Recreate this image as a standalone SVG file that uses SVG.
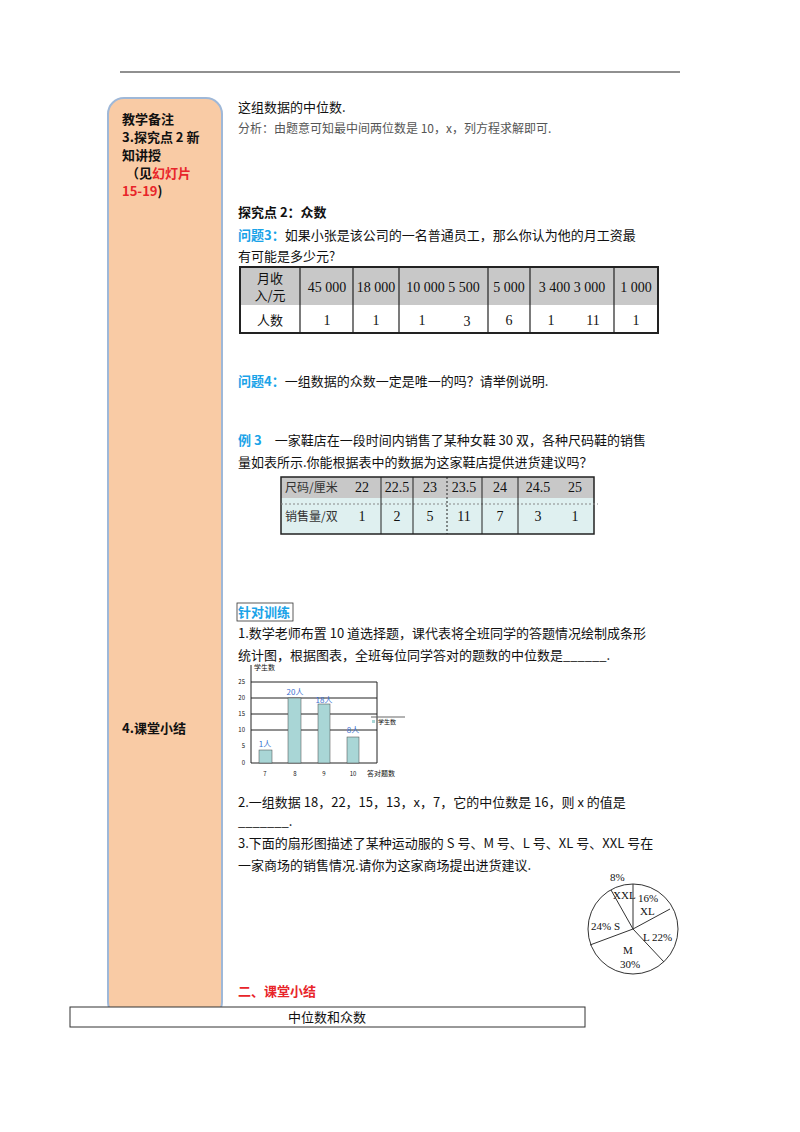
<svg xmlns="http://www.w3.org/2000/svg" width="800" height="1132" viewBox="0 0 800 1132">
<style>
text{font-family:"Noto Sans CJK SC","Noto Sans",sans-serif;font-size:13px;fill:#111}
.s{font-family:"Liberation Serif","Noto Sans CJK SC",serif;font-size:14px}
.b{font-weight:bold}
.blue{fill:#1aa3e8;font-weight:bold}
.red{fill:#e8252a}
.ln{stroke:#222;fill:none}
.t6{font-size:6px}
.t7{font-size:7px}
.t8{font-size:8px;fill:#3a6fd0}
.t11{font-size:11px}
.t12{font-size:12px;fill:#333}
</style>
<rect width="800" height="1132" fill="#fff"/>
<line x1="120" y1="72" x2="680" y2="72" stroke="#222" stroke-width="1.2"/>
<g id="sidebar">
<rect x="108" y="98" width="114" height="920" rx="16" fill="#f9cba5" stroke="#9fb8d8" stroke-width="2"/>
<text x="122" y="124" class="b">教学备注</text>
<text x="122" y="142" class="b">3.探究点 2 新</text>
<text x="122" y="160" class="b">知讲授</text>
<text x="126" y="178" class="b">（见<tspan class="red">幻灯片</tspan></text>
<text x="122" y="196" class="b"><tspan class="red">15-19</tspan>)</text>
<text x="122" y="733" class="b">4.课堂小结</text>
</g>
<g id="text1">
<text x="238" y="112">这组数据的中位数.</text>
<text x="238" y="133" style="fill:#555;font-size:12px">分析：由题意可知最中间两位数是 10，x，列方程求解即可.</text>
<text x="238" y="217" class="b">探究点 2：众数</text>
<text x="238" y="240"><tspan class="blue">问题3：</tspan>如果小张是该公司的一名普通员工，那么你认为他的月工资最</text>
<text x="238" y="261">有可能是多少元?</text>
</g>
<g id="table1">
<rect x="240" y="267" width="418" height="38" fill="#c8c8c8"/>
<rect x="240" y="267" width="418" height="66" class="ln" stroke-width="2"/>
<g class="ln" stroke-width="1.2">
<line x1="300" y1="267" x2="300" y2="333"/><line x1="353" y1="267" x2="353" y2="333"/><line x1="399" y1="267" x2="399" y2="333"/><line x1="488" y1="267" x2="488" y2="333"/><line x1="530" y1="267" x2="530" y2="333"/><line x1="614" y1="267" x2="614" y2="333"/>
</g>
<text x="270" y="283" text-anchor="middle">月收</text><text x="270" y="300" text-anchor="middle">入/元</text>
<g text-anchor="middle">
<text x="327" y="292" class="s">45 000</text><text x="376" y="292" class="s">18 000</text><text x="443" y="292" class="s">10 000  5 500</text><text x="509" y="292" class="s">5 000</text><text x="572" y="292" class="s">3 400  3 000</text><text x="636" y="292" class="s">1 000</text>
<text x="327" y="325" class="s">1</text><text x="376" y="325" class="s">1</text><text x="422" y="325" class="s">1</text><text x="467" y="326" class="s">3</text><text x="509" y="325" class="s">6</text><text x="551" y="325" class="s">1</text><text x="593" y="325" class="s">11</text><text x="636" y="325" class="s">1</text>
</g>
<text x="270" y="325" text-anchor="middle">人数</text>
</g>
<g id="text2">
<text x="238" y="386"><tspan class="blue">问题4：</tspan>一组数据的众数一定是唯一的吗？请举例说明.</text>
<text x="238" y="445"><tspan class="blue">例 3</tspan>　一家鞋店在一段时间内销售了某种女鞋 30 双，各种尺码鞋的销售</text>
<text x="238" y="467">量如表所示.你能根据表中的数据为这家鞋店提供进货建议吗？</text>
</g>
<g id="table2">
<rect x="281" y="477" width="313" height="21" fill="#c8c8c8"/>
<rect x="281" y="498" width="313" height="36" fill="#dff0f0"/>
<rect x="281" y="477" width="313" height="57" class="ln" stroke-width="1.5"/>
<line x1="281" y1="504" x2="598" y2="504" stroke="#888" stroke-dasharray="2,2"/>
<g class="ln"><line x1="381" y1="477" x2="381" y2="534"/><line x1="413" y1="477" x2="413" y2="534"/><line x1="447" y1="477" x2="447" y2="534" stroke-dasharray="2,2"/><line x1="482" y1="477" x2="482" y2="534"/><line x1="518" y1="477" x2="518" y2="534"/></g>
<text x="285" y="492" class="t12">尺码/厘米</text><text x="285" y="521" class="t12">销售量/双</text>
<g text-anchor="middle">
<text class="s" x="362" y="492">22</text><text class="s" x="397" y="492">22.5</text><text class="s" x="430" y="492">23</text><text class="s" x="464" y="492">23.5</text><text class="s" x="500" y="492">24</text><text class="s" x="538" y="492">24.5</text><text class="s" x="575" y="492">25</text>
<text class="s" x="362" y="521">1</text><text class="s" x="397" y="521">2</text><text class="s" x="430" y="521">5</text><text class="s" x="464" y="521">11</text><text class="s" x="500" y="521">7</text><text class="s" x="538" y="521">3</text><text class="s" x="575" y="521">1</text>
</g>
</g>
<g id="text3">
<text x="238" y="617" class="blue">针对训练</text>
<rect x="237" y="603" width="56" height="18" fill="none" stroke="#333" stroke-width="0.8"/>
<text x="238" y="638">1.数学老师布置 10 道选择题，课代表将全班同学的答题情况绘制成条形</text>
<text x="238" y="660">统计图，根据图表，全班每位同学答对的题数的中位数是______.</text>
</g>
<g id="barchart">
<line x1="251" y1="665" x2="251" y2="763" stroke="#222"/>
<line x1="251" y1="763" x2="377" y2="763" stroke="#222"/>
<g stroke="#222" fill="none"><line x1="251" y1="682" x2="377" y2="682"/><line x1="251" y1="698" x2="377" y2="698"/><line x1="251" y1="714" x2="377" y2="714"/><line x1="251" y1="730" x2="377" y2="730"/><line x1="377" y1="682" x2="377" y2="763"/></g>
<g fill="#a9d6d6" stroke="#444" stroke-width="0.5">
<rect x="259" y="750" width="13" height="13"/><rect x="288" y="698" width="13" height="65"/><rect x="318" y="704" width="12" height="59"/><rect x="347" y="737" width="12" height="26"/>
</g>
<g text-anchor="end">
<text x="245" y="684" class="t6">25</text><text x="245" y="700" class="t6">20</text><text x="245" y="716" class="t6">15</text><text x="245" y="732" class="t6">10</text><text x="245" y="748" class="t6">5</text><text x="245" y="765" class="t6">0</text>
</g>
<g text-anchor="middle">
<text x="265" y="776" class="t6">7</text><text x="295" y="776" class="t6">8</text><text x="324" y="776" class="t6">9</text><text x="353" y="776" class="t6">10</text>
</g>
<text x="254" y="670" class="t7">学生数</text>
<text x="367" y="776" class="t7">答对题数</text>
<g text-anchor="middle">
<text x="265" y="747" class="t8">1人</text><text x="295" y="695" class="t8">20人</text><text x="324" y="703" class="t8">18人</text><text x="353" y="733" class="t8">8人</text>
</g>
<line x1="371" y1="717" x2="405" y2="717" stroke="#666"/>
<rect x="372" y="720" width="3" height="3" fill="#a9d6d6"/>
<text x="378" y="724" class="t6">学生数</text>
</g>
<g id="text4">
<text x="238" y="807">2.一组数据 18，22，15，13，x，7，它的中位数是 16，则 x 的值是</text>
<text x="238" y="826">_______.</text>
<text x="238" y="848">3.下面的扇形图描述了某种运动服的 S 号、M 号、L 号、XL 号、XXL 号在</text>
<text x="238" y="870">一家商场的销售情况.请你为这家商场提出进货建议.</text>
</g>
<g id="pie">
<circle cx="633" cy="929" r="45" fill="none" stroke="#333"/>
<g stroke="#333"><line x1="633" y1="929" x2="633" y2="884"/><line x1="633" y1="929" x2="670" y2="909"/><line x1="633" y1="929" x2="664" y2="962"/><line x1="633" y1="929" x2="590" y2="945"/><line x1="633" y1="929" x2="611" y2="890"/></g>
<text class="s t11" x="610" y="881">8%</text><text class="s t11" x="613" y="899">XXL</text><text class="s t11" x="638" y="902">16%</text><text class="s t11" x="640" y="915">XL</text><text class="s t11" x="591" y="930">24% S</text><text class="s t11" x="643" y="941">L 22%</text><text class="s t11" x="623" y="954">M</text><text class="s t11" x="620" y="968">30%</text>
</g>
<g id="summary">
<text x="238" y="996" class="b red">二、课堂小结</text>
<rect x="70" y="1007" width="515" height="20" fill="#fff" stroke="#333"/>
<text x="327" y="1022" text-anchor="middle">中位数和众数</text>
</g>
</svg>
